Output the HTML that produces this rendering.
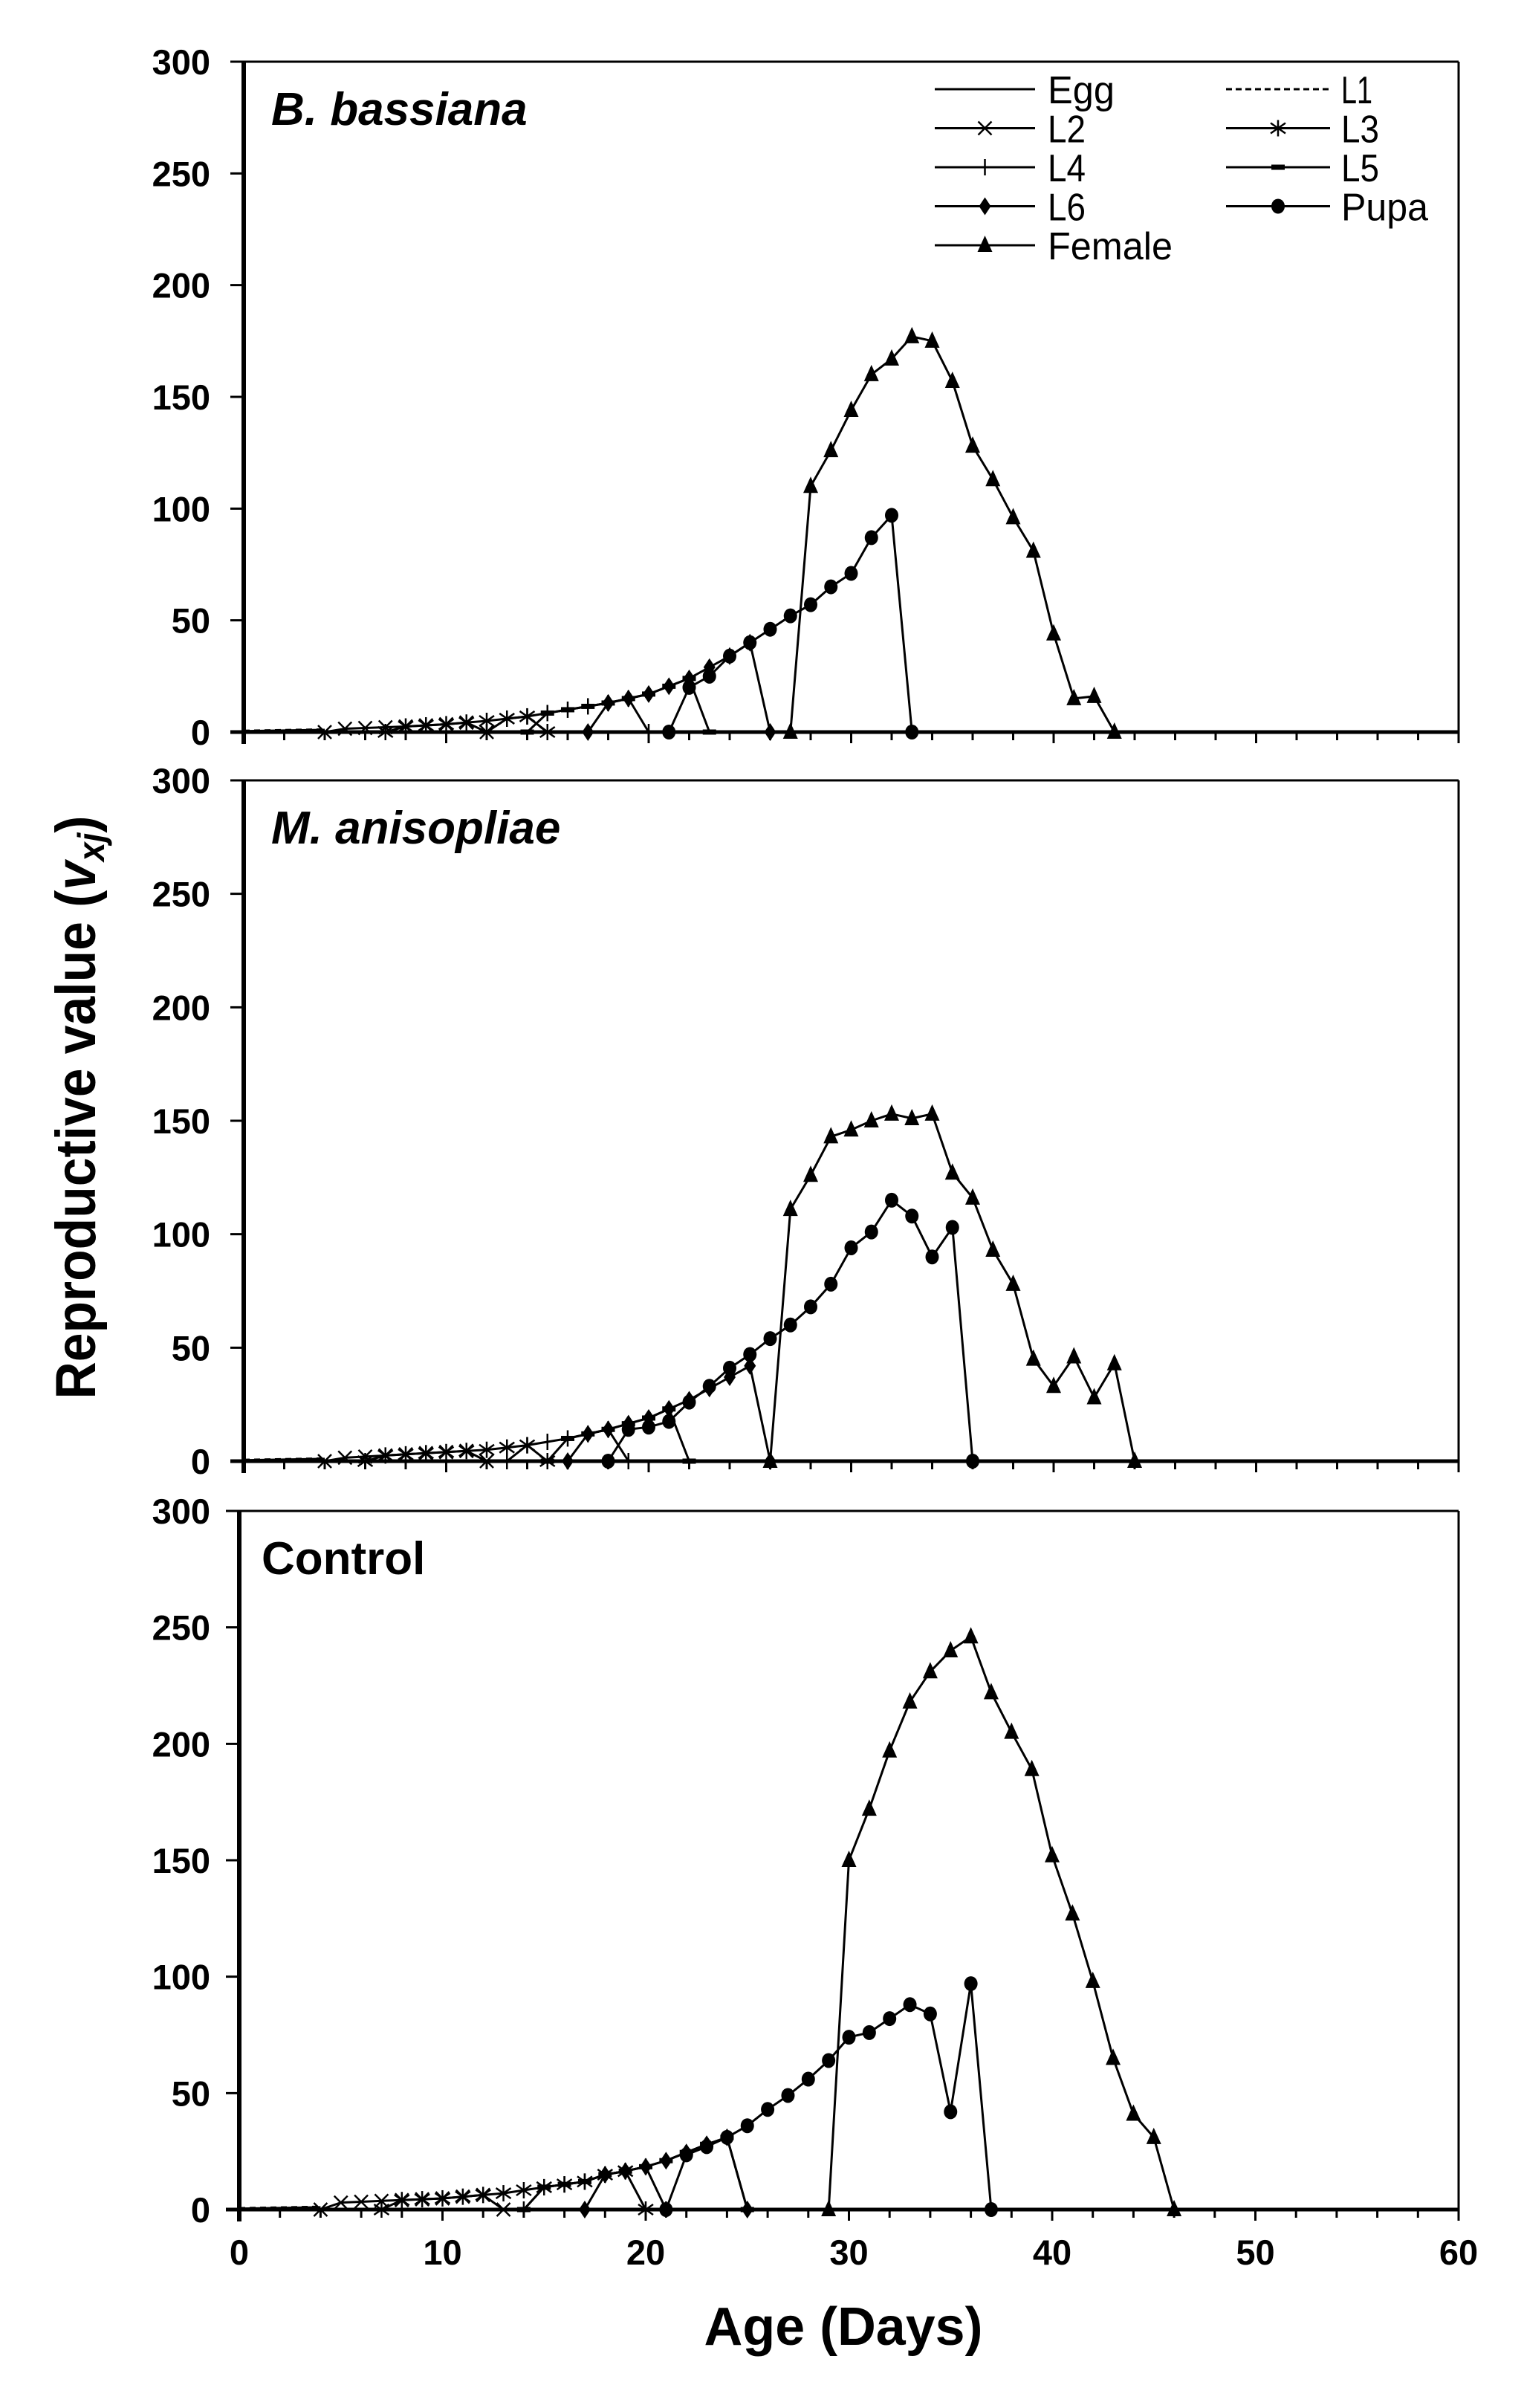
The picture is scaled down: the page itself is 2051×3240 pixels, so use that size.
<!DOCTYPE html>
<html><head><meta charset="utf-8"><style>
html,body{margin:0;padding:0;background:#fff;}
svg{display:block;}
text{font-family:"Liberation Sans",Arial,sans-serif;fill:#000;}
</style></head><body>
<svg id="s" xmlns="http://www.w3.org/2000/svg" width="2051" height="3240" viewBox="0 0 2051 3240">
<rect width="2051" height="3240" fill="#fff"/>
<text x="0" y="0" font-size="76" font-weight="bold" text-anchor="middle" transform="translate(128,1490) rotate(-90)" textLength="785" lengthAdjust="spacingAndGlyphs">Reproductive value (<tspan font-style="italic">v</tspan><tspan font-style="italic" font-size="50" dy="12">xj</tspan><tspan dy="-12">)</tspan></text>
<text x="1135" y="3155" font-size="72" font-weight="bold" text-anchor="middle" textLength="375" lengthAdjust="spacingAndGlyphs">Age (Days)</text>
<g id="g"></g>
</svg>
<script>
var NS="http://www.w3.org/2000/svg",G=document.getElementById('g'),out='';
var P=[{x0:328,x1:1963,y0:985,y1:83},{x0:328,x1:1963,y0:1966,y1:1050},{x0:322,x1:1963,y0:2973,y1:2033}];
function X(p,d){return p.x0+(p.x1-p.x0)*d/60;}
function Y(p,v){return p.y0-(p.y0-p.y1)*v/300;}
function ln(a,b,c,d,w){out+='<line x1="'+a+'" y1="'+b+'" x2="'+c+'" y2="'+d+'" stroke="#000" stroke-width="'+(w||3)+'"/>';}
function mk(t,x,y){
 if(t=='x'){ln(x-9,y-9,x+9,y+9,2.5);ln(x-9,y+9,x+9,y-9,2.5);}
 else if(t=='*'){ln(x,y-11,x,y+11,2.5);ln(x-10,y-7,x+10,y+7,2.5);ln(x-10,y+7,x+10,y-7,2.5);}
 else if(t=='+'){ln(x,y-11,x,y+11,2.5);}
 else if(t=='-'){out+='<rect x="'+(x-9)+'" y="'+(y-3.5)+'" width="18" height="7"/>';}
 else if(t=='d'){out+='<polygon points="'+x+','+(y-12)+' '+(x+8)+','+y+' '+x+','+(y+12)+' '+(x-8)+','+y+'"/>';}
 else if(t=='o'){out+='<ellipse cx="'+x+'" cy="'+y+'" rx="9" ry="10"/>';}
 else if(t=='^'){out+='<polygon points="'+x+','+(y-13)+' '+(x+10)+','+(y+9)+' '+(x-10)+','+(y+9)+'"/>';}
}
function interp(base,d){for(var i=0;i<base.length-1;i++){var a=base[i],b=base[i+1];if(d>=a[0]&&d<=b[0])return a[1]+(b[1]-a[1])*(d-a[0])/(b[0]-a[0]);}return base[base.length-1][1];}
function series(p,pts,m,dash){
 var s='';pts.forEach(function(q,i){s+=(i?'L':'M')+X(p,q[0]).toFixed(1)+','+Y(p,q[1]).toFixed(1);});
 out+='<path d="'+s+'" fill="none" stroke="#000" stroke-width="3"'+(dash?' stroke-dasharray="8,6"':'')+'/>';
 if(m)pts.forEach(function(q){mk(m,X(p,q[0]),Y(p,q[1]));});
}
function stage(p,base,a,b,m,f){var pts=[[a,0]];for(var d=a+1;d<b;d++)pts.push([d,interp(base,d)*(f||1)]);pts.push([b,0]);series(p,pts,m);}
function list(o){var r=[];for(var k in o)r.push([+k,o[k]]);return r.sort(function(a,b){return a[0]-b[0];});}
function axes(p,lab){
 ln(p.x0,p.y1,p.x1,p.y1,3);ln(p.x1,p.y1,p.x1,p.y0,3);
 ln(p.x0,p.y1-1.5,p.x0,p.y0+16,6);ln(p.x0-18,p.y0,p.x1,p.y0,5);
 for(var v=50;v<=300;v+=50)ln(p.x0-18,Y(p,v),p.x0,Y(p,v),3);
 for(var d=2;d<=60;d+=2){var L=(d%10==0)?15:11;ln(X(p,d),p.y0,X(p,d),p.y0+L,3);}
 for(var v=0;v<=300;v+=50)out+='<text x="283" y="'+(Y(p,v)+17)+'" font-size="47" font-weight="bold" text-anchor="end">'+v+'</text>';
}
var B=[
 [[0,0.5],[4,1],[5,1.5],[8,2.5],[10,3.5],[12,5],[14,7],[16,10],[18,13],[20,17],[22,24],[24,34],[25,40]],
 [[0,0.5],[4,1],[6,2],[8,3],[10,4],[12,5],[14,7],[16,10],[18,14],[20,19],[22,27],[24,37],[25,42]],
 [[0,0.5],[4,1.2],[5,3],[10,4.8],[13,7],[15,9.6],[17,12],[18,15],[19,16.5],[20,18.4],[21,21],[22,24.5],[23,28],[24,31]]
];
var PU=[
 list({21:0,22:20,23:25,24:34,25:40,26:46,27:52,28:57,29:65,30:71,31:87,32:97,33:0}),
 list({18:0,19:14,20:15,21:17.5,22:26,23:33,24:41,25:47,26:54,27:60,28:68,29:78,30:94,31:101,32:115,33:108,34:90,35:103,36:0}),
 list({21:0,22:23.5,23:27,24:31,25:36,26:43,27:49,28:56,29:64,30:74,31:76,32:82,33:88,34:84,35:42,36:97,37:0})
];
var FE=[
 list({27:0,28:110,29:126,30:144,31:160,32:167,33:177,34:175,35:157,36:128,37:113,38:96,39:81,40:44,41:15,42:16,43:0}),
 list({26:0,27:111,28:126,29:143,30:146,31:150,32:153,33:151,34:153,35:127,36:116,37:93,38:78,39:45,40:33,41:46,42:28,43:43,44:0}),
 list({29:0,30:150,31:172,32:197,33:218,34:231,35:240,36:246,37:222,38:205,39:189,40:152,41:127,42:98,43:65,44:41,45:31,46:0})
];
var ST=[
 [[4,12,'x'],[7,15,'*'],[12,20,'+'],[14,23,'-'],[17,26,'d']],
 [[4,12,'x'],[6,15,'*'],[13,19,'+'],[15,22,'-'],[16,26,'d']],
 [[4,13,'x'],[7,20,'*'],[14,21,'+'],[14,25,'-'],[17,25,'d']]
];
var LB=[['B. bassiana',365,168,true],['M. anisopliae',365,1135,true],['Control',352,2118,false]];
for(var i=0;i<3;i++){
 var p=P[i];axes(p);
 series(p,[[0,0.4],[4,1]],null);series(p,[[0,0.6],[4,1.2]],null,true);
 ST[i].forEach(function(s){stage(p,B[i],s[0],s[1],s[2]);});
 series(p,PU[i],'o');series(p,FE[i],'^');
 out+='<text x="'+LB[i][1]+'" y="'+LB[i][2]+'" font-size="62" font-weight="bold"'+(LB[i][3]?' font-style="italic"':'')+'>'+LB[i][0]+'</text>';
}
for(var t=0;t<=60;t+=10)out+='<text x="'+X(P[2],t)+'" y="3047" font-size="47" font-weight="bold" text-anchor="middle">'+t+'</text>';
var LG=[['Egg',0,0,null,false],['L1',1,0,null,true],['L2',0,1,'x'],['L3',1,1,'*'],['L4',0,2,'+'],['L5',1,2,'-'],['L6',0,3,'d'],['Pupa',1,3,'o'],['Female',0,4,'^']];
var LW=[90,42,51,51,51,51,51,117,168];
LG.forEach(function(l,k){
 var x1=l[1]?1650:1258,x2=l[1]?1790:1393,tx=l[1]?1805:1410,y=120+52.5*l[2];
 out+='<line x1="'+x1+'" y1="'+y+'" x2="'+x2+'" y2="'+y+'" stroke="#000" stroke-width="3"'+(l[4]?' stroke-dasharray="8,5"':'')+'/>';
 if(l[3])mk(l[3],(x1+x2)/2,y);
 out+='<text x="'+tx+'" y="'+(y+19)+'" font-size="52" textLength="'+LW[k]+'" lengthAdjust="spacingAndGlyphs">'+l[0]+'</text>';
});
G.innerHTML=out;
</script>
</body></html>
